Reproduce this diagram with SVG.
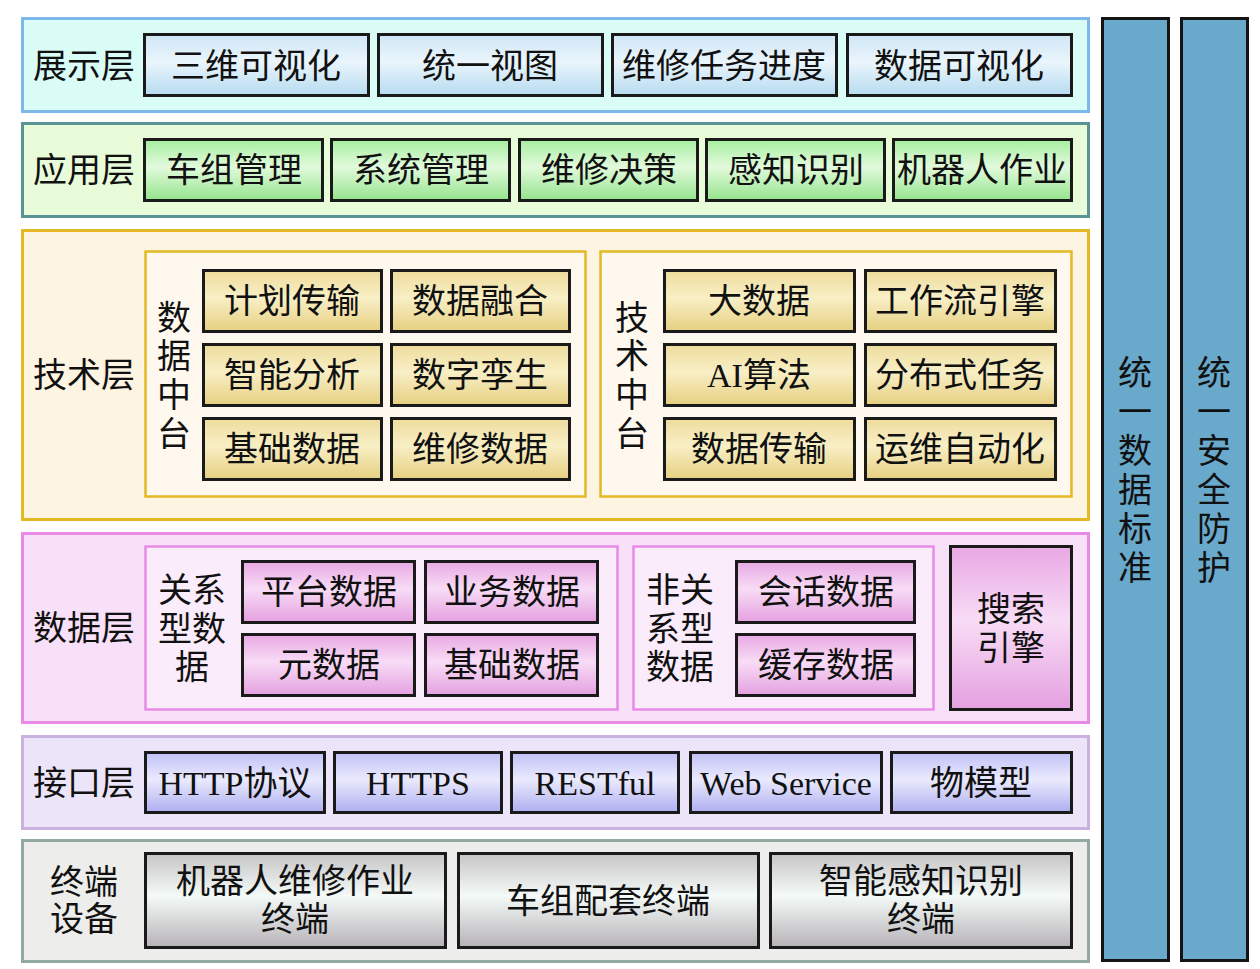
<svg xmlns="http://www.w3.org/2000/svg" width="1260" height="969" viewBox="0 0 1260 969">
<defs>
<linearGradient id="gBlue" x1="0" y1="0" x2="0" y2="1"><stop offset="0" stop-color="#cfe6f6"/><stop offset="0.45" stop-color="#eaf5fc"/><stop offset="1" stop-color="#b6dbf0"/></linearGradient>
<linearGradient id="gGreen" x1="0" y1="0" x2="0" y2="1"><stop offset="0" stop-color="#a6eea0"/><stop offset="0.45" stop-color="#e2fadc"/><stop offset="1" stop-color="#94e48c"/></linearGradient>
<linearGradient id="gGold" x1="0" y1="0" x2="0" y2="1"><stop offset="0" stop-color="#eedc9c"/><stop offset="0.45" stop-color="#f8efc6"/><stop offset="1" stop-color="#e6cf80"/></linearGradient>
<linearGradient id="gPink" x1="0" y1="0" x2="0" y2="1"><stop offset="0" stop-color="#e8a8e4"/><stop offset="0.45" stop-color="#f8dcf6"/><stop offset="1" stop-color="#e4a0e0"/></linearGradient>
<linearGradient id="gPurple" x1="0" y1="0" x2="0" y2="1"><stop offset="0" stop-color="#c0c0f6"/><stop offset="0.45" stop-color="#eaeafe"/><stop offset="1" stop-color="#aeaef0"/></linearGradient>
<linearGradient id="gGray" x1="0" y1="0" x2="0" y2="1"><stop offset="0" stop-color="#c6c4c6"/><stop offset="0.45" stop-color="#f4faf8"/><stop offset="1" stop-color="#b6b2b6"/></linearGradient>
</defs>
<style>
text{font-family:"Liberation Serif","Noto Sans CJK SC",serif;font-size:34px;fill:#111;text-anchor:middle;dominant-baseline:central}
.node{stroke:#1a1a1a;stroke-width:3}
.layer{stroke-width:3}
.box{stroke-width:2.5}
.bar{fill:#69a9cc;stroke:#141414;stroke-width:3}
</style>
<rect width="1260" height="969" fill="#fff"/>

<!-- Layer 1 -->
<g id="layer-display">
<rect class="layer" x="22.5" y="18.5" width="1066" height="93" fill="#d9fdf6" stroke="#7cb9ea"/>
<text x="84" y="66">展示层</text>
</g>
<g id="n-3d"><rect class="node" x="144.5" y="34.5" width="224" height="61" fill="url(#gBlue)"/><text x="256" y="66">三维可视化</text></g>
<g id="n-view"><rect class="node" x="378.5" y="34.5" width="224" height="61" fill="url(#gBlue)"/><text x="490" y="66">统一视图</text></g>
<g id="n-progress"><rect class="node" x="612.5" y="34.5" width="224" height="61" fill="url(#gBlue)"/><text x="724" y="66">维修任务进度</text></g>
<g id="n-dataviz"><rect class="node" x="847.5" y="34.5" width="224" height="61" fill="url(#gBlue)"/><text x="959" y="66">数据可视化</text></g>

<!-- Layer 2 -->
<g id="layer-app">
<rect class="layer" x="22.5" y="123.5" width="1066" height="93" fill="#e9fcd9" stroke="#5b9494"/>
<text x="84" y="170">应用层</text>
</g>
<g id="n-fleet"><rect class="node" x="144.5" y="139.5" width="178" height="61" fill="url(#gGreen)"/><text x="234" y="170">车组管理</text></g>
<g id="n-sys"><rect class="node" x="331.5" y="139.5" width="178" height="61" fill="url(#gGreen)"/><text x="421" y="170">系统管理</text></g>
<g id="n-decide"><rect class="node" x="519.5" y="139.5" width="178" height="61" fill="url(#gGreen)"/><text x="609" y="170">维修决策</text></g>
<g id="n-sense"><rect class="node" x="706.5" y="139.5" width="178" height="61" fill="url(#gGreen)"/><text x="796" y="170">感知识别</text></g>
<g id="n-robot"><rect class="node" x="893.5" y="139.5" width="178" height="61" fill="url(#gGreen)"/><text x="982" y="170">机器人作业</text></g>

<!-- Layer 3 -->
<g id="layer-tech">
<rect class="layer" x="22.5" y="230.5" width="1066" height="289" fill="#fef4e2" stroke="#e2b924"/>
<text x="84" y="375">技术层</text>
</g>
<g id="c-datamid">
<rect class="box" x="145.5" y="251.5" width="440" height="245" fill="#fef8ef" stroke="#e2b924"/>
<text x="174" y="318">数</text><text x="174" y="356">据</text><text x="174" y="395">中</text><text x="174" y="434">台</text>
</g>
<g id="n-plan"><rect class="node" x="203.5" y="270.5" width="178" height="61" fill="url(#gGold)"/><text x="292" y="301">计划传输</text></g>
<g id="n-fusion"><rect class="node" x="391.5" y="270.5" width="178" height="61" fill="url(#gGold)"/><text x="480" y="301">数据融合</text></g>
<g id="n-analysis"><rect class="node" x="203.5" y="344.5" width="178" height="61" fill="url(#gGold)"/><text x="292" y="375">智能分析</text></g>
<g id="n-twin"><rect class="node" x="391.5" y="344.5" width="178" height="61" fill="url(#gGold)"/><text x="480" y="375">数字孪生</text></g>
<g id="n-basedata"><rect class="node" x="203.5" y="418.5" width="178" height="61" fill="url(#gGold)"/><text x="292" y="449">基础数据</text></g>
<g id="n-maintdata"><rect class="node" x="391.5" y="418.5" width="178" height="61" fill="url(#gGold)"/><text x="480" y="449">维修数据</text></g>

<g id="c-techmid">
<rect class="box" x="600.5" y="251.5" width="471" height="245" fill="#fef8ef" stroke="#e2b924"/>
<text x="632" y="318">技</text><text x="632" y="356">术</text><text x="632" y="395">中</text><text x="632" y="434">台</text>
</g>
<g id="n-bigdata"><rect class="node" x="664.5" y="270.5" width="190" height="61" fill="url(#gGold)"/><text x="759" y="301">大数据</text></g>
<g id="n-workflow"><rect class="node" x="865.5" y="270.5" width="190" height="61" fill="url(#gGold)"/><text x="960" y="301">工作流引擎</text></g>
<g id="n-ai"><rect class="node" x="664.5" y="344.5" width="190" height="61" fill="url(#gGold)"/><text x="759" y="375">AI算法</text></g>
<g id="n-dist"><rect class="node" x="865.5" y="344.5" width="190" height="61" fill="url(#gGold)"/><text x="960" y="375">分布式任务</text></g>
<g id="n-trans"><rect class="node" x="664.5" y="418.5" width="190" height="61" fill="url(#gGold)"/><text x="759" y="449">数据传输</text></g>
<g id="n-ops"><rect class="node" x="865.5" y="418.5" width="190" height="61" fill="url(#gGold)"/><text x="960" y="449">运维自动化</text></g>

<!-- Layer 4 -->
<g id="layer-data">
<rect class="layer" x="22.5" y="533.5" width="1066" height="189" fill="#f8e0f8" stroke="#e88ae8"/>
<text x="84" y="628">数据层</text>
</g>
<g id="c-rel">
<rect class="box" x="145.5" y="546.5" width="472" height="163" fill="#fbecfb" stroke="#e88ae8"/>
<text x="192" y="590">关系</text><text x="192" y="629">型数</text><text x="192" y="667">据</text>
</g>
<g id="n-platform"><rect class="node" x="242.5" y="561.5" width="172" height="61" fill="url(#gPink)"/><text x="329" y="592">平台数据</text></g>
<g id="n-biz"><rect class="node" x="425.5" y="561.5" width="172" height="61" fill="url(#gPink)"/><text x="512" y="592">业务数据</text></g>
<g id="n-meta"><rect class="node" x="242.5" y="634.5" width="172" height="61" fill="url(#gPink)"/><text x="329" y="665">元数据</text></g>
<g id="n-base2"><rect class="node" x="425.5" y="634.5" width="172" height="61" fill="url(#gPink)"/><text x="512" y="665">基础数据</text></g>
<g id="c-nonrel">
<rect class="box" x="633.5" y="546.5" width="300" height="163" fill="#fbecfb" stroke="#e88ae8"/>
<text x="680" y="590">非关</text><text x="680" y="629">系型</text><text x="680" y="667">数据</text>
</g>
<g id="n-session"><rect class="node" x="736.5" y="561.5" width="178" height="61" fill="url(#gPink)"/><text x="826" y="592">会话数据</text></g>
<g id="n-cache"><rect class="node" x="736.5" y="634.5" width="178" height="61" fill="url(#gPink)"/><text x="826" y="665">缓存数据</text></g>
<g id="n-search"><rect class="node" x="950.5" y="546.5" width="121" height="163" fill="url(#gPink)"/><text x="1011" y="609">搜索</text><text x="1011" y="648">引擎</text></g>

<!-- Layer 5 -->
<g id="layer-iface">
<rect class="layer" x="22.5" y="736.5" width="1066" height="92" fill="#ece5f9" stroke="#c9b2e0"/>
<text x="84" y="783">接口层</text>
</g>
<g id="n-http"><rect class="node" x="145.5" y="752.5" width="179" height="60" fill="url(#gPurple)"/><text x="235" y="783">HTTP协议</text></g>
<g id="n-https"><rect class="node" x="334.5" y="752.5" width="167" height="60" fill="url(#gPurple)"/><text x="418" y="783">HTTPS</text></g>
<g id="n-rest"><rect class="node" x="511.5" y="752.5" width="167" height="60" fill="url(#gPurple)"/><text x="595" y="783">RESTful</text></g>
<g id="n-ws"><rect class="node" x="690.5" y="752.5" width="191" height="60" fill="url(#gPurple)"/><text x="786" y="783">Web Service</text></g>
<g id="n-thing"><rect class="node" x="891.5" y="752.5" width="180" height="60" fill="url(#gPurple)"/><text x="981" y="783">物模型</text></g>

<!-- Layer 6 -->
<g id="layer-term">
<rect class="layer" x="22.5" y="840.5" width="1066" height="121" fill="#ededeb" stroke="#92a9a2"/>
<text x="84" y="882">终端</text><text x="84" y="919">设备</text>
</g>
<g id="n-robotterm"><rect class="node" x="145.5" y="853.5" width="300" height="94" fill="url(#gGray)" stroke="#333a3a"/><text x="295" y="881">机器人维修作业</text><text x="295" y="919">终端</text></g>
<g id="n-fleetterm"><rect class="node" x="458.5" y="853.5" width="300" height="94" fill="url(#gGray)" stroke="#333a3a"/><text x="608" y="901">车组配套终端</text></g>
<g id="n-senseterm"><rect class="node" x="770.5" y="853.5" width="301" height="94" fill="url(#gGray)" stroke="#333a3a"/><text x="921" y="881">智能感知识别</text><text x="921" y="919">终端</text></g>

<!-- Side bars -->
<g id="bar-standard">
<rect class="bar" x="1102.5" y="18.5" width="66" height="942"/>
<text x="1135" y="373">统</text><text x="1135" y="412">一</text><text x="1135" y="451">数</text><text x="1135" y="490">据</text><text x="1135" y="529">标</text><text x="1135" y="568">准</text>
</g>
<g id="bar-security">
<rect class="bar" x="1181.5" y="18.5" width="66" height="942"/>
<text x="1214" y="373">统</text><text x="1214" y="412">一</text><text x="1214" y="451">安</text><text x="1214" y="490">全</text><text x="1214" y="529">防</text><text x="1214" y="568">护</text>
</g>
<g id="connectors"/>
</svg>
